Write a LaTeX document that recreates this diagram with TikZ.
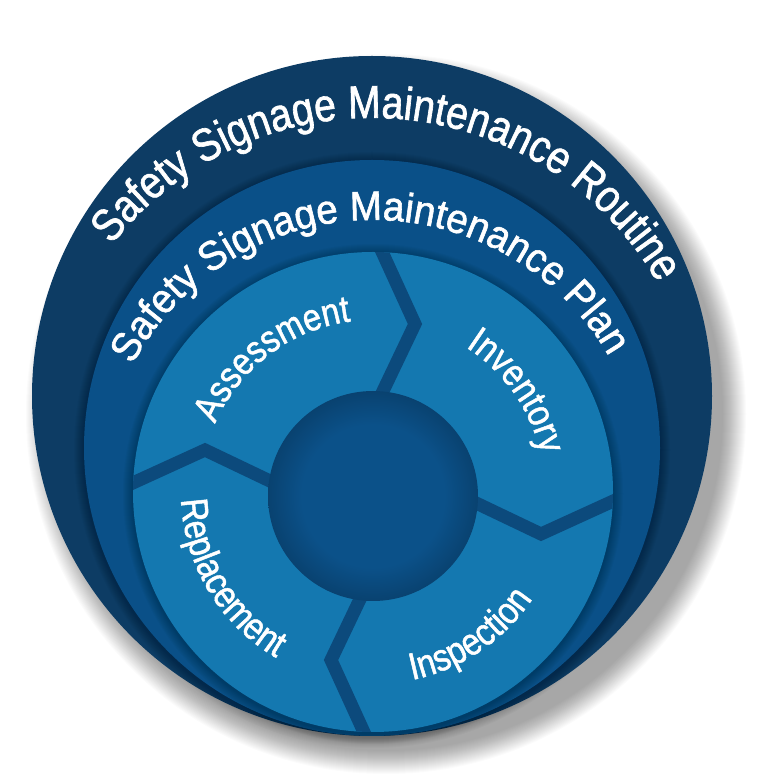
\documentclass[tikz,border=0pt]{standalone}
\usepackage{fontspec}
\setmainfont{Liberation Sans}
\newfontfamily\ofont{Liberation Sans}[FakeStretch=0.85, FakeBold=1.4]
\newfontfamily\ifont{Liberation Sans}[FakeStretch=0.94, FakeBold=1.4]
\newfontfamily\lfont{Liberation Sans}[FakeStretch=0.86, FakeBold=1.3]
\usetikzlibrary{decorations.text}
\definecolor{outerc}{HTML}{0D3C64}
\definecolor{midc}{HTML}{0A5088}
\definecolor{segc}{HTML}{1478B0}
\definecolor{gapc}{HTML}{0C4A7C}
\definecolor{cenc}{HTML}{0B5189}
\definecolor{cenedge}{HTML}{094270}
\pgfdeclareradialshading{censh}{\pgfpoint{0bp}{0bp}}{color(0bp)=(cenc); color(17bp)=(cenc); color(25bp)=(cenedge); color(50bp)=(cenedge)}
\begin{document}
\begin{tikzpicture}[x=1pt,y=1pt,
  gapline/.style={gapc, line width=13pt, line join=miter},
  halo/.style={black, opacity=0.025}]
\useasboundingbox (0,0) rectangle (756,780);
\fill[white] (0,0) rectangle (756,780);
% drop shadow
\foreach \k in {0,...,23} {\fill[black,opacity=0.016] (386,366) circle ({360-\k});}
% outer band
\fill[outerc] (372,384) circle (340);
\foreach \k in {1,...,10} {\fill[halo] (372,330) circle ({288+\k});}
% middle band
\fill[midc] (372,332) circle (288);
\foreach \k in {1,...,10} {\fill[halo] (373,286) circle ({240+\k});}
% segment ring
\fill[segc] (373,288) circle (240);
\begin{scope}
  \clip (373,288) circle (240);
  \foreach \t in {90,0,-90,180} {
    \begin{scope}[shift={(373,288)}, rotate=\t]
      \draw[gapline] (260,0) -- (168,-42) -- (80,0);
    \end{scope}
  }
\end{scope}
% central circle
\shade[shading=censh] (373,284) circle (105);
% ring texts
\path[decorate, decoration={text along path, text align=center, text color=white,
  text={|\ofont\fontsize{46}{46}\selectfont|Safety Signage Maintenance Routine}}]
  (372,332) ++(166:330) arc[start angle=166, end angle=6, radius=330];
\path[decorate, decoration={text along path, text align=center, text color=white,
  text={|\ifont\fontsize{41}{41}\selectfont|Safety Signage Maintenance Plan}}]
  (373,288) ++(171:272) arc[start angle=171, end angle=11, radius=272];
% segment labels
\path[decorate, decoration={text along path, text align=center, text color=white,
  text={|\lfont\fontsize{38}{38}\selectfont|Assessment}}]
  (373,288) ++(177:172) arc[start angle=177, end angle=77, radius=172];
\path[decorate, decoration={text along path, text align=center, text color=white,
  text={|\lfont\fontsize{38}{38}\selectfont|Inventory}}]
  (373,288) ++(85:172) arc[start angle=85, end angle=-15, radius=172];
\path[decorate, decoration={text along path, text align=center, text color=white,
  text={|\lfont\fontsize{38}{38}\selectfont|Replacement}}]
  (373,288) ++(161:192) arc[start angle=161, end angle=261, radius=192];
\path[decorate, decoration={text along path, text align=center, text color=white,
  text={|\lfont\fontsize{38}{38}\selectfont|Inspection}}]
  (373,288) ++(254:192) arc[start angle=254, end angle=354, radius=192];
\end{tikzpicture}
\end{document}
